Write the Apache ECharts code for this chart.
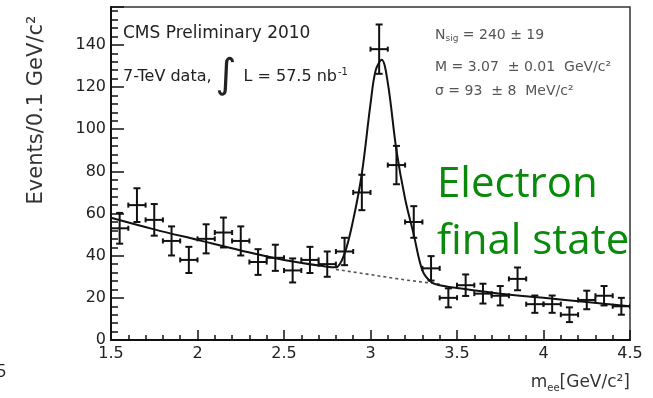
<!DOCTYPE html>
<html><head><meta charset="utf-8">
<script src="https://cdn.jsdelivr.net/npm/echarts@6/dist/echarts.min.js"></script>
<style>html,body{margin:0;padding:0;background:#fff}#c{width:653px;height:398px}</style>
</head><body><div id="c"></div>
<script>
// Bin centres (GeV/c^2), 0.1 GeV bins
const binCenters = [1.55,1.65,1.75,1.85,1.95,2.05,2.15,2.25,2.35,2.45,2.55,2.65,2.75,2.85,2.95,3.05,3.15,3.25,3.35,3.45,3.55,3.65,3.75,3.85,3.95,4.05,4.15,4.25,4.35,4.45];
// Events per bin
const counts = [53,64,57,47,38,48,51,47,37,39,33,38,36,42,70,138,83,56,34,20,26,22,21,29,17,17,12,19,21,16];
// Vertical error bars
const errors = [7.3,8.0,7.5,6.9,6.2,6.9,7.1,6.9,6.1,6.2,5.7,6.2,6.0,6.5,8.4,11.7,9.1,7.5,5.8,4.5,5.1,4.7,4.6,5.4,4.1,4.1,3.5,4.4,4.6,4.0];
const binHalfWidth = 0.05;
// Fit curve (signal + background)
const fitX = [1.5,1.75,2.0,2.25,2.5,2.75,2.8,2.85,2.9,2.95,3.0,3.03,3.065,3.1,3.15,3.2,3.25,3.3,3.35,3.4,3.5,3.75,4.0,4.25,4.5];
const fitY = [58,52.5,47.5,42.5,38,34.8,34.5,41,57,79,112,128,133,122,90,67,50,33,27.5,26,24.7,22,20,18,16];
// Background-only component (dashed) under the peak
const bkgX = [2.8,3.0,3.2,3.4];
const bkgY = [33.5,31,28.5,26.5];
// Tick labels
const xTickLabels = ['1.5','2','2.5','3','3.5','4','4.5'];
const yTickLabels = ['0','20','40','60','80','100','120','140'];

const chart = echarts.init(document.getElementById('c'), null, {renderer:'canvas'});
const tickFont = 'DejaVu Sans';
const option = {
  animation: false,
  backgroundColor: '#fff',
  grid: {left: 111, top: 7, right: 23, bottom: 58, show: true, borderColor: '#333', borderWidth: 1.5, backgroundColor: 'transparent'},
  xAxis: {
    type: 'value', min: 1.5, max: 4.5, interval: 0.5,
    axisLine: {show: true, onZero: false, lineStyle: {color: '#111', width: 2}},
    axisTick: {show: true, inside: true, length: 10, lineStyle: {color: '#111', width: 1.5}},
    minorTick: {show: true, splitNumber: 5, length: 5, lineStyle: {color: '#111', width: 1.5}},
    splitLine: {show: false},
    axisLabel: {color: '#222', fontFamily: tickFont, fontSize: 16, margin: 6,
      formatter: v => { const s = String(Math.round(v*10)/10); return xTickLabels.indexOf(s) >= 0 ? s : ''; }}
  },
  yAxis: {
    type: 'value', min: 0, max: 158, interval: 20,
    axisLine: {show: true, lineStyle: {color: '#111', width: 2}},
    axisTick: {show: true, inside: true, length: 13, lineStyle: {color: '#111', width: 1.5}},
    minorTick: {show: true, splitNumber: 5, length: 7, lineStyle: {color: '#111', width: 1.5}},
    splitLine: {show: false},
    axisLabel: {color: '#222', fontFamily: tickFont, fontSize: 16, margin: 5,
      formatter: v => { const s = String(Math.round(v)); return (yTickLabels.indexOf(s) >= 0 && Math.abs(v - Math.round(v)) < 1e-6) ? s : ''; }}
  },
  series: [
    {
      type: 'line', name: 'bkg', data: bkgX.map((x, i) => [x, bkgY[i]]),
      showSymbol: false, smooth: false,
      lineStyle: {color: '#555', width: 1.6, type: [3, 3]}, z: 2
    },
    {
      type: 'line', name: 'fit', data: fitX.map((x, i) => [x, fitY[i]]),
      showSymbol: false, smooth: 0.35,
      lineStyle: {color: '#111', width: 2}, z: 3
    },
    {
      type: 'custom', name: 'data', clip: true, z: 4,
      data: binCenters.map((x, i) => [x, counts[i], errors[i]]),
      encode: {x: 0, y: 1},
      renderItem: function (params, api) {
        const x = api.value(0), y = api.value(1), e = api.value(2);
        const c = api.coord([x, y]);
        const l = api.coord([x - binHalfWidth, y]);
        const r = api.coord([x + binHalfWidth, y]);
        const t = api.coord([x, y + e]);
        const b = api.coord([x, y - e]);
        const st = {stroke: '#111', lineWidth: 2};
        const vc = 3.5, hc = 2.5;
        return {type: 'group', children: [
          {type: 'line', shape: {x1: l[0], y1: c[1], x2: r[0], y2: c[1]}, style: st},
          {type: 'line', shape: {x1: c[0], y1: t[1], x2: c[0], y2: b[1]}, style: st},
          {type: 'line', shape: {x1: c[0] - vc, y1: t[1], x2: c[0] + vc, y2: t[1]}, style: st},
          {type: 'line', shape: {x1: c[0] - vc, y1: b[1], x2: c[0] + vc, y2: b[1]}, style: st},
          {type: 'line', shape: {x1: l[0], y1: c[1] - hc, x2: l[0], y2: c[1] + hc}, style: st},
          {type: 'line', shape: {x1: r[0], y1: c[1] - hc, x2: r[0], y2: c[1] + hc}, style: st}
        ]};
      }
    }
  ],
  graphic: [
    {type: 'text', x: 37, y: 110, rotation: Math.PI / 2,
      style: {text: 'Events/0.1 GeV/c²', font: '21px "DejaVu Sans"', fill: '#333', align: 'center', verticalAlign: 'middle'}},
    {type: 'text', x: 123, y: 34,
      style: {text: 'CMS Preliminary 2010', font: '17px "DejaVu Sans"', fill: '#222', verticalAlign: 'middle'}},
    {type: 'text', x: 123, y: 77,
      style: {text: '{a|7-TeV data,}{i|∫}{a| L = 57.5 nb}{s|-1}', verticalAlign: 'middle', fill: '#222',
        rich: {a: {font: '16px "DejaVu Sans"', fill: '#222'}, i: {font: '40px "DejaVu Sans"', fill: '#222', padding: [0,2,0,4]}, s: {font: '10px "DejaVu Sans"', fill: '#222', padding: [0,0,10,1]}}}},
    {type: 'text', x: 435, y: 35,
      style: {text: '{a|N}{b|sig}{a| = 240 ± 19}', verticalAlign: 'middle',
        rich: {a: {font: '14px "DejaVu Sans"', fill: '#555'}, b: {font: '9px "DejaVu Sans"', fill: '#555', padding: [8,0,0,0]}}}},
    {type: 'text', x: 435, y: 67,
      style: {text: 'M = 3.07  ± 0.01  GeV/c²', font: '14px "DejaVu Sans"', fill: '#555', verticalAlign: 'middle'}},
    {type: 'text', x: 435, y: 91,
      style: {text: 'σ = 93  ± 8  MeV/c²', font: '14px "DejaVu Sans"', fill: '#555', verticalAlign: 'middle'}},
    {type: 'text', x: 437, y: 185,
      style: {text: 'Electron', font: '42px "Open Sans"', fill: '#0a8a0a', verticalAlign: 'middle'}},
    {type: 'text', x: 437, y: 242,
      style: {text: 'final state', font: '42px "Open Sans"', fill: '#0a8a0a', verticalAlign: 'middle'}},
    {type: 'text', x: 630, y: 383,
      style: {text: '{a|m}{b|ee}{a|[GeV/c²]}', align: 'right', verticalAlign: 'middle',
        rich: {a: {font: '17px "DejaVu Sans"', fill: '#333'}, b: {font: '10px "DejaVu Sans"', fill: '#333', padding: [10,0,0,0]}}}},
    {type: 'text', x: -4, y: 372,
      style: {text: '5', font: '18px "Open Sans"', fill: '#222', verticalAlign: 'middle'}}
  ]
};
chart.setOption(option);
</script>
</body></html>
